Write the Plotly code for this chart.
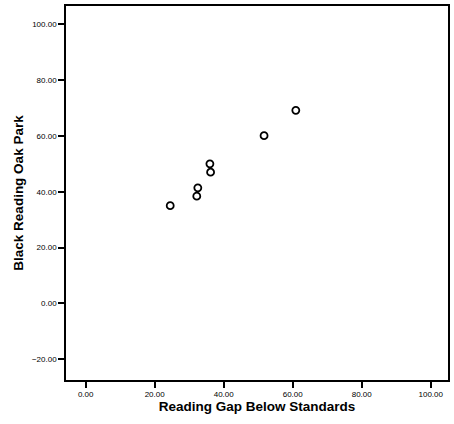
import plotly.graph_objects as go

reading_gap = [24.5, 32.2, 32.5, 36.0, 36.2, 51.7, 60.9]
black_reading = [35.0, 38.4, 41.4, 50.0, 47.0, 60.1, 69.2]

x_ticks = [0, 20, 40, 60, 80, 100]
y_ticks = [-20, 0, 20, 40, 60, 80, 100]

fig = go.Figure()
fig.add_trace(go.Scatter(
    x=reading_gap, y=black_reading, mode="markers",
    marker=dict(symbol="circle-open", size=7, color="black", line=dict(width=1.8)),
    showlegend=False,
))

axis_common = dict(
    showgrid=False, zeroline=False, showline=True, linecolor="black", linewidth=1.5,
    mirror=True, ticks="outside", ticklen=6, tickwidth=1.5, tickcolor="black",
    tickformat=".2f", tickfont=dict(family="Liberation Sans, Arial", size=8, color="black"),
)

fig.update_layout(
    width=454, height=424,
    margin=dict(l=66, r=5, t=4, b=44),
    paper_bgcolor="white", plot_bgcolor="white",
    xaxis=dict(range=[-5.7, 105], tickvals=x_ticks,
               title=dict(text="<b>Reading Gap Below Standards</b>", standoff=3,
                          font=dict(family="Liberation Sans, Arial", size=13.5, color="black")),
               **axis_common),
    yaxis=dict(range=[-27.5, 106.6], tickvals=y_ticks,
               title=dict(text="<b>Black Reading Oak Park</b>", standoff=5,
                          font=dict(family="Liberation Sans, Arial", size=13.5, color="black")),
               **axis_common),
)

fig.write_html("out.html")
